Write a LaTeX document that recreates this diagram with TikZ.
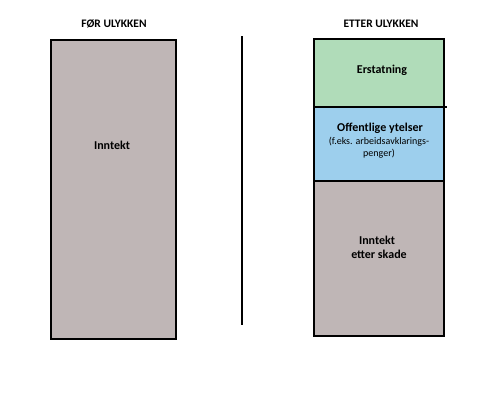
\documentclass[tikz,border=0pt]{standalone}
\usepackage{fontspec}
\setmainfont{Carlito}
\definecolor{incgray}{RGB}{191,182,182}
\definecolor{compgreen}{RGB}{176,220,185}
\definecolor{pubblue}{RGB}{157,207,237}
\begin{document}
\begin{tikzpicture}[x=1pt,y=-1pt,
  box/.style={draw=black,line width=2.4pt},
  ttl/.style={font=\bfseries\fontsize{11.5}{13}\selectfont,align=center,inner sep=0pt},
  lbl/.style={font=\bfseries\fontsize{12}{14}\selectfont,align=center,inner sep=0pt},
  small/.style={font=\fontsize{10}{12}\selectfont,align=center,inner sep=0pt}]
\useasboundingbox (0,0) rectangle (502,405);
% left column
\path[box,fill=incgray] (51,40) rectangle (176,339);
\node[ttl] (t1) at (114,24) {FØR ULYKKEN};
\node[lbl] (inc) at (112,145) {Inntekt};
% divider
\coordinate (dtop) at (242,36);
\coordinate (dbot) at (242,325);
\draw[line width=2pt] (dtop) -- (dbot);
% right column
\path[box,fill=compgreen] (314,39) rectangle (444,107);
\path[box,fill=pubblue] (314,107) rectangle (444,181);
\path[box,fill=incgray] (314,181) rectangle (444,336);
\draw[line width=2.4pt] (443,107) -- (446.5,107);
\node[ttl] (t2) at (381,24) {ETTER ULYKKEN};
\node[lbl] (ers) at (382,70) {Erstatning};
\node[lbl] (off) at (380,128) {Offentlige ytelser};
\node[small,anchor=north] (fe) at (379,136.5) {(f.eks. arbeidsavklarings-\\penger)};
\node[lbl,align=center] (ies) at (377,247) {Inntekt\\\,\,etter skade};
\end{tikzpicture}
\end{document}
